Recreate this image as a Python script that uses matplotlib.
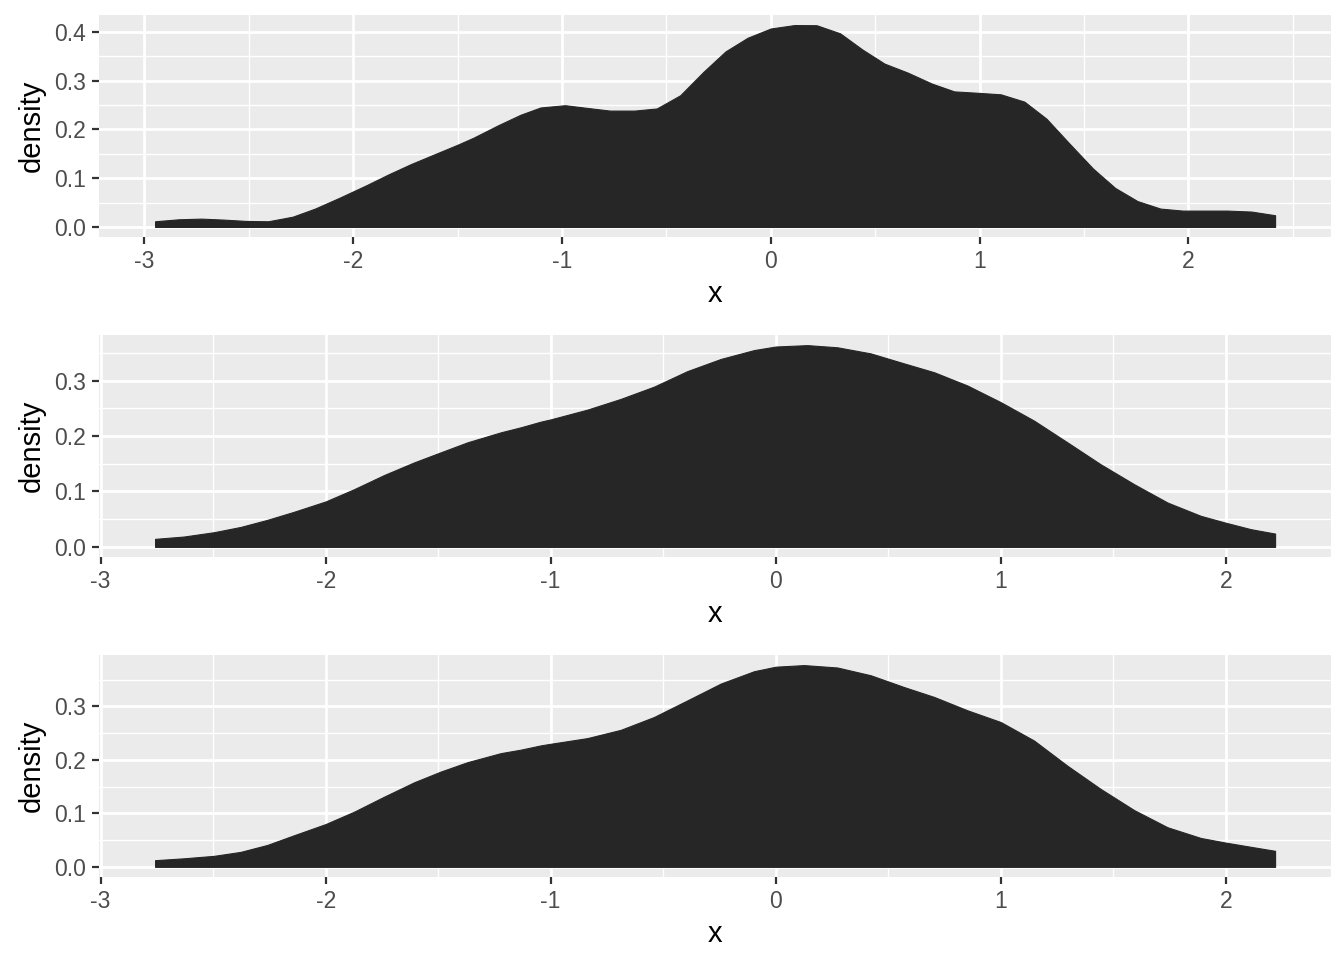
import matplotlib
matplotlib.use('Agg')
import matplotlib.pyplot as plt
from matplotlib.ticker import MultipleLocator

plt.rcParams['font.family'] = ['Liberation Sans', 'DejaVu Sans']

# 第一幅图: 多边形密度 (顶点读取自原图)
x_top = [-2.949, -2.835, -2.728, -2.62, -2.514, -2.407, -2.29, -2.183, -2.065, -1.937,
         -1.83, -1.723, -1.605, -1.498, -1.424, -1.306, -1.199, -1.103, -0.985, -0.878,
         -0.771, -0.653, -0.546, -0.434, -0.323, -0.217, -0.111, 0.0, 0.113, 0.219,
         0.332, 0.438, 0.544, 0.655, 0.771, 0.878, 0.995, 1.101, 1.214, 1.32,
         1.43, 1.543, 1.649, 1.756, 1.866, 1.972, 2.079, 2.185, 2.302, 2.415]
d_top = [0.0116, 0.0157, 0.017, 0.015, 0.0123, 0.0116, 0.021, 0.0376, 0.060, 0.0855,
         0.108, 0.129, 0.150, 0.169, 0.183, 0.2085, 0.230, 0.245, 0.2496, 0.244,
         0.2386, 0.2386, 0.243, 0.270, 0.318, 0.360, 0.388, 0.407, 0.414, 0.4137,
         0.397, 0.364, 0.335, 0.3166, 0.294, 0.278, 0.275, 0.272, 0.257, 0.222,
         0.171, 0.1197, 0.080, 0.053, 0.0376, 0.0335, 0.0335, 0.0335, 0.0315, 0.024]

# 第二幅图 (平滑曲线)
x_mid = [-2.758, -2.630, -2.496, -2.378, -2.259, -2.141, -2.0, -1.874, -1.741, -1.607,
         -1.489, -1.37, -1.222, -1.133, -1.044, -1.0, -0.837, -0.689, -0.541, -0.393,
         -0.244, -0.096, 0.0, 0.141, 0.274, 0.422, 0.570, 0.704, 0.852, 1.0,
         1.148, 1.296, 1.444, 1.593, 1.741, 1.889, 1.996, 2.111, 2.219]
d_mid = [0.0145, 0.0187, 0.0265, 0.036, 0.0488, 0.0633, 0.082, 0.104, 0.1295, 0.1524,
         0.1705, 0.1886, 0.2066, 0.2157, 0.2259, 0.230, 0.2476, 0.2669, 0.289, 0.317,
         0.339, 0.355, 0.3614, 0.3639, 0.360, 0.349, 0.331, 0.315, 0.291, 0.261,
         0.2277, 0.1886, 0.149, 0.113, 0.080, 0.056, 0.044, 0.032, 0.024]

# 第三幅图
x_bot = [-2.758, -2.630, -2.496, -2.378, -2.259, -2.141, -2.0, -1.874, -1.741, -1.607,
         -1.489, -1.37, -1.222, -1.133, -1.044, -1.0, -0.837, -0.689, -0.541, -0.393,
         -0.244, -0.096, 0.0, 0.126, 0.274, 0.422, 0.570, 0.704, 0.852, 1.0,
         1.148, 1.296, 1.444, 1.593, 1.741, 1.889, 1.996, 2.111, 2.219]
d_bot = [0.0125, 0.016, 0.0206, 0.028, 0.041, 0.059, 0.08, 0.103, 0.131, 0.158,
         0.178, 0.1956, 0.2125, 0.219, 0.227, 0.23, 0.2406, 0.256, 0.28, 0.311,
         0.3425, 0.3656, 0.374, 0.377, 0.3725, 0.358, 0.336, 0.3175, 0.2925, 0.2706,
         0.236, 0.189, 0.1456, 0.106, 0.074, 0.054, 0.0456, 0.0375, 0.030]

fill_color = '#262626'


def density_panel(ax, xs, ds):
    ax.fill_between(xs, 0, ds, color=fill_color, linewidth=0.8, zorder=3)
    # ggplot 默认 5% 扩展
    xr = max(xs) - min(xs)
    yr = max(ds)
    ax.set_xlim(min(xs) - 0.05 * xr, max(xs) + 0.05 * xr)
    ax.set_ylim(-0.05 * yr, yr * 1.05)

    ax.set_facecolor('#EBEBEB')
    for s in ax.spines.values():
        s.set_visible(False)
    ax.xaxis.set_major_locator(MultipleLocator(1))
    ax.xaxis.set_minor_locator(MultipleLocator(0.5))
    ax.yaxis.set_major_locator(MultipleLocator(0.1))
    ax.yaxis.set_minor_locator(MultipleLocator(0.05))
    ax.grid(which='major', color='white', linewidth=2.0)
    ax.grid(which='minor', color='white', linewidth=1.0)
    ax.set_axisbelow(True)
    ax.tick_params(which='major', length=5.3, width=1.6, color='#333333',
                   labelcolor='#4D4D4D', labelsize=16.5, pad=4)
    ax.tick_params(which='minor', length=0)
    ax.xaxis.set_major_formatter(plt.FuncFormatter(lambda v, p: '%d' % round(v)))
    ax.yaxis.set_major_formatter(plt.FuncFormatter(lambda v, p: '%.1f' % v))
    ax.set_xlabel('x', fontsize=21, labelpad=5)
    ax.set_ylabel('density', fontsize=21, labelpad=6)


fig = plt.figure(figsize=(13.44, 9.6), dpi=100)
ax1 = fig.add_axes([0.0737, 0.7531, 0.9167, 0.2313])
ax2 = fig.add_axes([0.0737, 0.4198, 0.9167, 0.2312])
ax3 = fig.add_axes([0.0737, 0.0865, 0.9167, 0.2312])

density_panel(ax1, x_top, d_top)
density_panel(ax2, x_mid, d_mid)
density_panel(ax3, x_bot, d_bot)

plt.savefig('out.png', dpi=100)
